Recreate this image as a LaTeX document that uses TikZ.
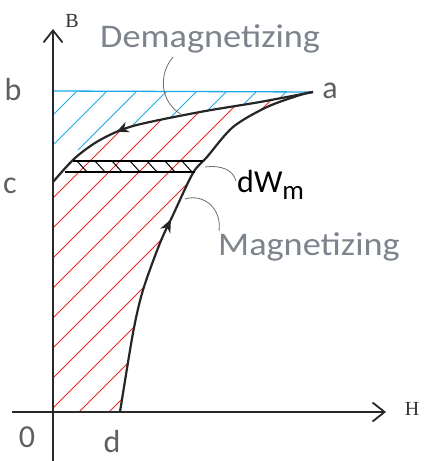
\documentclass[tikz,border=0pt]{standalone}
\usepackage{fontspec}
\setmainfont{Carlito}
\newfontfamily\axfont{Liberation Serif}
\usetikzlibrary{arrows.meta,decorations.markings}
\definecolor{hred}{RGB}{235,40,40}
\definecolor{hblue}{RGB}{30,170,230}
\definecolor{lblgray}{RGB}{125,132,142}
\definecolor{ltrgray}{RGB}{95,95,100}
\definecolor{axisc}{RGB}{40,40,40}
\definecolor{leadc}{RGB}{110,110,110}
\begin{document}
\begin{tikzpicture}[x=1pt,y=-1pt,
  hatchred/.style={hred,line width=0.8pt},
  hatchblue/.style={hblue,line width=0.9pt},
  axisline/.style={axisc,line width=1.8pt,-{Straight Barb[length=12pt,width=19pt,line width=1.8pt]}},
  curveline/.style={black!85,line width=2.2pt},
  stripline/.style={black,line width=1.4pt},
  leader/.style={leadc,line width=0.8pt},
  bigword/.style={lblgray,font=\fontsize{33}{36}\selectfont,inner sep=0pt,xscale=1.1},
  letter/.style={ltrgray,font=\fontsize{32}{34}\selectfont,inner sep=0pt},
  axlabel/.style={black!80,font=\axfont\fontsize{20}{22}\selectfont,inner sep=0pt}
]
\useasboundingbox (0,0) rectangle (425,461);
\fill[white] (0,0) rectangle (425,461);
\coordinate (O) at (53,412);
\coordinate (a) at (313,92);
\coordinate (b) at (53,91);
\coordinate (c) at (53,182);
\coordinate (d) at (120,412);
% red hatch
\begin{scope}
\clip (O) -- (c) -- plot[smooth] coordinates {(53,182) (75,158) (100,140) (133,126) (200,112) (260,102) (313,92)}
  -- plot[smooth] coordinates {(313,92) (300,95) (267,107) (233,127) (207,157) (193,173) (173,215) (160,243) (143,290) (133,333) (120,412)} -- cycle;
\foreach \k in {221,251,...,521} \draw[hatchred] (\k-420,420) -- (\k,0);
\end{scope}
% blue hatch
\begin{scope}
\clip (b) -- (313,91) -- plot[smooth] coordinates {(313,92) (260,102) (200,112) (133,126) (100,140) (75,158) (53,182)} -- cycle;
\foreach \k in {168,198,...,408} \draw[hatchblue] (\k-150,150) -- (\k,0);
\end{scope}
\draw[hblue,line width=1.3pt] (b) -- (a);
% axes
\draw[axisline] (53,461) -- (53,29);
\draw[axisline] (12,412) -- (386,412);
% curves
\draw[curveline,postaction=decorate,decoration={markings,mark=at position 0.71 with {\arrow{Stealth[length=12pt,width=11pt]}}}]
  plot[smooth] coordinates {(313,92) (260,102) (200,112) (133,126) (100,140) (75,158) (53,182)};
\draw[curveline,postaction=decorate,decoration={markings,mark=at position 0.5 with {\arrow{Stealth[length=13pt,width=11pt,inset=4pt]}}}]
  plot[smooth] coordinates {(120,412) (133,333) (143,290) (160,243) (173,215) (193,173) (207,157) (233,127) (267,107) (300,95) (313,92)};
% dW strip
\coordinate (s1) at (73,161); \coordinate (s2) at (203,161);
\coordinate (s3) at (65,172); \coordinate (s4) at (195,172);
\draw[stripline] (s1) -- (s2);
\draw[stripline] (s3) -- (s4);
\foreach \x in {77,95,112,130,147,165,182} \draw[black,line width=1pt] (\x,161) -- (\x+10,172);
% leaders
\coordinate (l1a) at (173,57); \coordinate (l1b) at (182,115);
\draw[leader] (l1a) .. controls (158,75) and (160,102) .. (l1b);
\coordinate (l2a) at (205,167); \coordinate (l2b) at (236,181);
\draw[leader] (l2a) .. controls (222,165) and (233,170) .. (l2b);
\coordinate (l3a) at (185,199); \coordinate (l3b) at (219,231);
\draw[leader] (l3a) .. controls (205,193) and (222,210) .. (l3b);
% labels
\node[axlabel] (Blab) at (72,21) {B};
\node[axlabel] (Hlab) at (412,409) {H};
\node[bigword,anchor=base west] (demag) at (100,47) {Demagnetizing};
\node[bigword,anchor=base west] (mag) at (218,255) {Magnetizing};
\node[black,font=\fontsize{32}{34}\selectfont,inner sep=0pt,anchor=base west] (dw) at (237,192) {dW\raisebox{-7pt}{\fontsize{27}{30}\selectfont m}};
\node[letter] (la) at (330,91) {a};
\node[letter] (lb) at (13,89) {b};
\node[letter] (lc) at (10,186) {c};
\node[letter] (l0) at (27,437) {0};
\node[letter] (ld) at (112,441) {d};
\end{tikzpicture}
\end{document}
